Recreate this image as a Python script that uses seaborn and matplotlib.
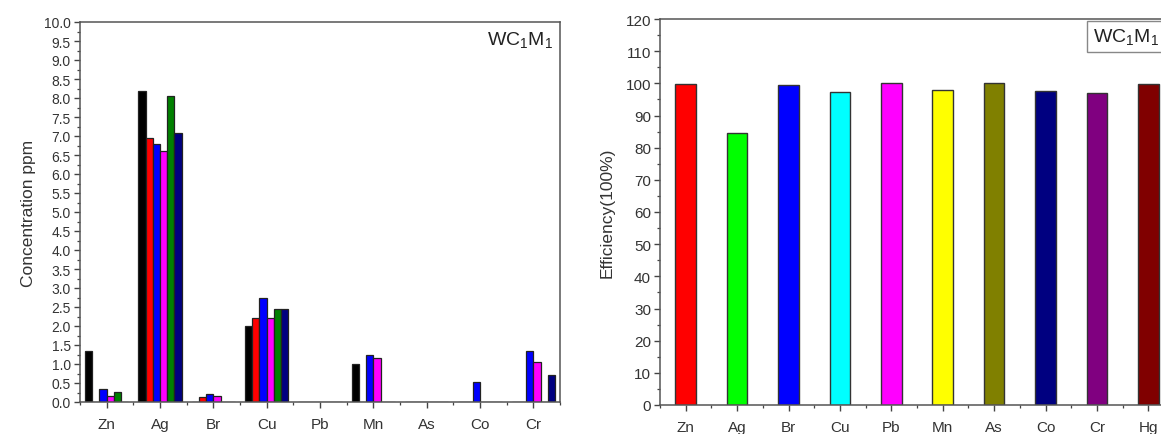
import numpy as np
import pandas as pd
import matplotlib
matplotlib.use("Agg")
import matplotlib.pyplot as plt
from matplotlib.ticker import MultipleLocator, FormatStrFormatter
import seaborn as sns

# ---------------- data ----------------
elements_left = ["Zn", "Ag", "Br", "Cu", "Pb", "Mn", "As", "Co", "Cr"]
series_names = ["S1", "S2", "S3", "S4", "S5", "S6"]
s1 = [1.33, 8.18, 0.00, 2.00, 0.00, 1.00, 0.00, 0.00, 0.00]
s2 = [0.00, 6.95, 0.13, 2.22, 0.00, 0.00, 0.00, 0.00, 0.00]
s3 = [0.35, 6.78, 0.20, 2.74, 0.00, 1.25, 0.00, 0.53, 1.35]
s4 = [0.16, 6.60, 0.17, 2.22, 0.00, 1.16, 0.00, 0.00, 1.05]
s5 = [0.27, 8.05, 0.00, 2.46, 0.00, 0.00, 0.00, 0.00, 0.00]
s6 = [0.00, 7.09, 0.00, 2.46, 0.00, 0.00, 0.00, 0.00, 0.70]
series_colors = ["#000000", "#ff0000", "#0000ff", "#ff00ff", "#008000", "#000080"]

elements_right = ["Zn", "Ag", "Br", "Cu", "Pb", "Mn", "As", "Co", "Cr", "Hg"]
efficiency = [99.9, 84.6, 99.6, 97.2, 100.0, 97.9, 100.0, 97.5, 97.0, 99.9]
eff_colors = ["#ff0000", "#00ff00", "#0000ff", "#00ffff", "#ff00ff",
              "#ffff00", "#808000", "#000080", "#800080", "#800000"]

left_ylabel = "Concentration ppm"
right_ylabel = "Efficiency(100%)"
panel_label = r"WC$_{\mathregular{1}}$M$_{\mathregular{1}}$"

# ---------------- build ----------------
rows = []
for name, vals in zip(series_names, [s1, s2, s3, s4, s5, s6]):
    for el, v in zip(elements_left, vals):
        rows.append({"element": el, "series": name, "value": v})
df_left = pd.DataFrame(rows)
df_right = pd.DataFrame({"element": elements_right, "eff": efficiency})

sns.set_theme(style="white")
plt.rcParams["font.family"] = ["Liberation Sans", "DejaVu Sans"]
plt.rcParams["mathtext.fontset"] = "custom"
plt.rcParams["mathtext.rm"] = "Liberation Sans"
plt.rcParams["mathtext.it"] = "Liberation Sans"

W, H = 1161, 435
fig = plt.figure(figsize=(W / 100, H / 100), dpi=100)
fig.patch.set_facecolor("white")

axL = fig.add_axes([80 / W, 1 - 403 / H, 480 / W, 380 / H])
axR = fig.add_axes([660 / W, 1 - 406 / H, 514 / W, 386 / H])

sns.barplot(data=df_left, x="element", y="value", hue="series",
            order=elements_left, hue_order=series_names,
            palette=series_colors, saturation=1, width=0.81, gap=0,
            errorbar=None, edgecolor="#222222", linewidth=0.9,
            legend=False, ax=axL)

sns.barplot(data=df_right, x="element", y="eff", hue="element",
            order=elements_right, hue_order=elements_right,
            palette=eff_colors, saturation=1, width=0.4, errorbar=None,
            dodge=False, edgecolor="#333333", linewidth=1.0,
            legend=False, ax=axR)

tick_col = "#444444"
for ax in (axL, axR):
    for sp in ax.spines.values():
        sp.set_visible(True)
        sp.set_color("#555555")
        sp.set_linewidth(1.1)
    ax.set_xlabel("")
    ax.tick_params(axis="both", which="major", direction="out", length=4.5,
                   width=1.0, color=tick_col, bottom=True, left=True, pad=2)
    ax.tick_params(axis="both", which="minor", direction="out", length=2.5,
                   width=0.9, color=tick_col, bottom=True, left=True)
    ax.xaxis.set_minor_locator(MultipleLocator(0.5))

# left axes
axL.set_xlim(-0.5, len(elements_left) - 0.5)
axL.set_ylim(0, 10)
axL.yaxis.set_major_locator(MultipleLocator(0.5))
axL.yaxis.set_minor_locator(MultipleLocator(0.25))
axL.yaxis.set_major_formatter(FormatStrFormatter("%.1f"))
axL.tick_params(axis="y", labelsize=10, labelcolor="#333333")
axL.tick_params(axis="x", labelsize=11, labelcolor="#333333", pad=6)
axL.set_ylabel(left_ylabel, fontsize=12.5, color="#333333", labelpad=6)
axL.text(0.985, 0.955, panel_label, transform=axL.transAxes, ha="right",
         va="center", fontsize=14, color="#222222")

# right axes
axR.set_xlim(-0.5, len(elements_right) - 0.5)
axR.set_ylim(0, 120)
axR.yaxis.set_major_locator(MultipleLocator(10))
axR.yaxis.set_minor_locator(MultipleLocator(5))
axR.tick_params(axis="y", labelsize=11, labelcolor="#333333")
axR.tick_params(axis="x", labelsize=11, labelcolor="#333333", pad=6)
axR.set_ylabel(right_ylabel, fontsize=12.5, color="#333333", labelpad=8)
axR.text(0.843, 0.955, panel_label, transform=axR.transAxes, ha="left",
         va="center", fontsize=14, color="#222222",
         bbox=dict(boxstyle="square,pad=0.3", facecolor="white",
                   edgecolor="#888888", linewidth=1.0))

fig.savefig("out.png", dpi=100, facecolor="white")
